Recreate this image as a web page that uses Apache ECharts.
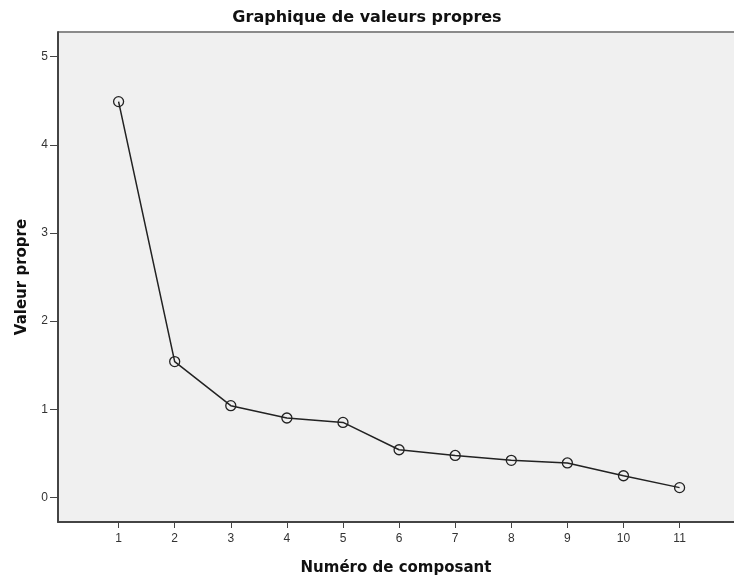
<!DOCTYPE html>
<html>
<head>
<meta charset="utf-8">
<script src="https://cdn.jsdelivr.net/npm/echarts@6/dist/echarts.min.js"></script>
<style>
  html, body { margin: 0; padding: 0; background: #fff; }
  #chart { width: 734px; height: 581px; }
</style>
</head>
<body>
<div id="chart"></div>
<script>
// numéros de composant et valeurs propres
const components = [1, 2, 3, 4, 5, 6, 7, 8, 9, 10, 11]
const eigenvalues = [4.49, 1.54, 1.04, 0.90, 0.85, 0.54, 0.475, 0.42, 0.39, 0.245, 0.11]
const yTicks = [0, 1, 2, 3, 4, 5]

const font = '"Liberation Sans", Arial, sans-serif'
const boldFont = '"DejaVu Sans", sans-serif'
const myChart = echarts.init(document.getElementById('chart'))

myChart.setOption({
  backgroundColor: '#fff',
  animation: false,
  title: {
    text: 'Graphique de valeurs propres',
    left: 'center',
    top: 5,
    textStyle: {fontFamily: boldFont, fontSize: 16, fontWeight: 'bold', color: '#111'}
  },
  grid: {
    left: 58,
    right: 0,
    top: 32,
    bottom: 58,
    show: true,
    backgroundColor: '#f0f0f0',
    borderWidth: 0
  },
  xAxis: {
    type: 'value',
    min: -0.08,
    max: 11.97,
    name: 'Numéro de composant',
    nameLocation: 'middle',
    nameGap: 39,
    nameTextStyle: {fontFamily: boldFont, fontSize: 15, fontWeight: 'bold', color: '#111'},
    axisLine: {onZero: false, lineStyle: {color: '#444', width: 2}},
    axisTick: {show: true, customValues: components, length: 6, lineStyle: {color: '#444', width: 1}},
    axisLabel: {customValues: components, fontFamily: font, fontSize: 12, color: '#333', margin: 11},
    splitLine: {show: false}
  },
  yAxis: {
    type: 'value',
    min: -0.28,
    max: 5.28,
    name: 'Valeur propre',
    nameLocation: 'middle',
    nameGap: 28,
    nameTextStyle: {fontFamily: boldFont, fontSize: 15, fontWeight: 'bold', color: '#111'},
    axisLine: {show: true, onZero: false, lineStyle: {color: '#444', width: 2}},
    axisTick: {show: true, customValues: yTicks, length: 8, lineStyle: {color: '#444', width: 1}},
    axisLabel: {customValues: yTicks, fontFamily: font, fontSize: 12, color: '#333', margin: 10},
    splitLine: {show: false}
  },
  graphic: [
    {
      // bordure supérieure grise du cadre
      type: 'rect',
      shape: {x: 58, y: 31, width: 676, height: 2},
      style: {fill: '#8a8a8a'},
      silent: true
    }
  ],
  series: [
    {
      type: 'line',
      data: components.map((c, i) => [c, eigenvalues[i]]),
      symbol: 'circle',
      symbolSize: 10,
      lineStyle: {color: '#222', width: 1.5},
      itemStyle: {color: 'rgba(0,0,0,0)', borderColor: '#222', borderWidth: 1.3},
      z: 3
    }
  ]
})
</script>
</body>
</html>
